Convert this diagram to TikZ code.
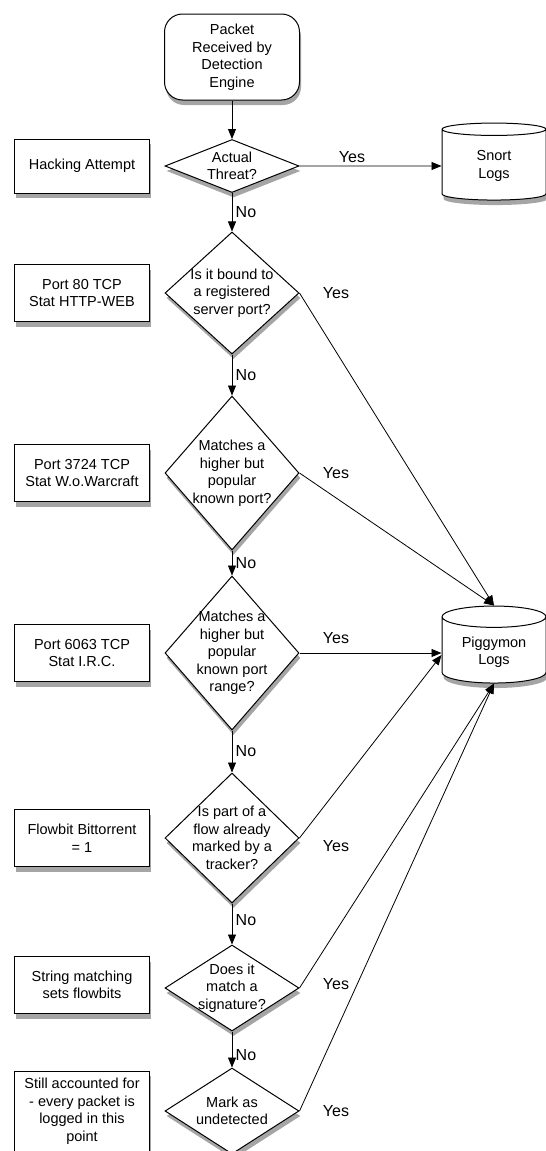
\documentclass[tikz,border=0pt]{standalone}
\usepackage{fontspec}
\setmainfont{Liberation Sans}
\usetikzlibrary{shapes.geometric,shadows,arrows.meta}

\begin{document}
\begin{tikzpicture}[x=1pt, y=-1pt, font=\fontsize{14.5}{17.5}\selectfont,
  softshadow/.style = {drop shadow={opacity=.5, fill=black!70, shadow xshift=1.5pt, shadow yshift=-5pt}},
  term/.style = {draw, line width=1pt, fill=white, rounded corners=18pt, minimum width=135pt, minimum height=86pt, align=center, softshadow},
  proc/.style = {draw, line width=1pt, fill=white, minimum width=135pt, minimum height=54pt, align=center, softshadow},
  quest/.style = {draw, line width=1pt, fill=white, diamond, inner sep=0pt, minimum width=134pt, softshadow},
  logs/.style = {draw, line width=1pt, fill=white, cylinder, shape border rotate=90, aspect=.3, minimum width=104pt, minimum height=77pt, align=center, softshadow},
  flow/.style = {-{Triangle[length=10pt, width=8pt]}, line width=.8pt},
  ans/.style = {font=\fontsize{16}{19}\selectfont}]
\useasboundingbox (0,0) rectangle (546,1151);

% main column
\node[term] (start) at (232,57) {Packet\\Received by\\Detection\\Engine};
\node[quest, minimum height=53pt, label={[align=center]center:Actual\\Threat?}] (d1) [below of=start, node distance=109pt] {};
\node[quest, minimum height=122pt, label={[align=center]center:Is it bound to\\a registered\\server port?}] (d2) [below of=d1, node distance=127pt] {};
\node[quest, minimum height=154pt, label={[align=center]center:Matches a\\higher but\\popular\\known port?}] (d3) [below of=d2, node distance=180pt] {};
\node[quest, minimum height=154pt, label={[align=center]center:Matches a\\higher but\\popular\\known port\\range?}] (d4) [below of=d3, node distance=180pt] {};
\node[quest, minimum height=130pt, label={[align=center]center:Is part of a\\flow already\\marked by a\\tracker?}] (d5) [below of=d4, node distance=185pt] {};
\node[quest, minimum height=86pt, label={[align=center]center:Does it\\match a\\signature?}] (d6) [below of=d5, node distance=150pt] {};
\node[quest, minimum height=86pt, label={[align=center]center:Mark as\\undetected}] (d7) [below of=d6, node distance=123pt] {};

% side notes
\node[proc] (hack) [left of=d1, node distance=150pt] {Hacking Attempt};
\node[proc, minimum height=57pt] (http) [left of=d2, node distance=150pt] {Port 80 TCP\\Stat HTTP-WEB};
\node[proc, minimum height=57pt] (wow) [left of=d3, node distance=150pt] {Port 3724 TCP\\Stat W.o.Warcraft};
\node[proc, minimum height=57pt] (irc) [left of=d4, node distance=150pt] {Port 6063 TCP\\Stat I.R.C.};
\node[proc, minimum height=57pt] (bt) [left of=d5, node distance=150pt] {Flowbit Bittorrent\\= 1};
\node[proc, minimum height=57pt, yshift=3pt] (sig) [left of=d6, node distance=150pt] {String matching\\sets flowbits};
\node[proc, minimum height=80pt] (still) [left of=d7, node distance=150pt] {Still accounted for\\- every packet is\\logged in this\\point};

% logs
\node[logs] (snort) [right of=d1, node distance=262pt] {Snort\\Logs};
\node[logs] (pig) [right of=d4, node distance=262pt, yshift=1pt] {Piggymon\\Logs};

% yes labels
\node[ans] (y2) [right of=d2, node distance=104pt] {Yes};
\node[ans] (y3) [right of=d3, node distance=104pt] {Yes};
\node[ans, yshift=15pt] (y4) [right of=d4, node distance=104pt] {Yes};
\node[ans, yshift=-8pt] (y5) [right of=d5, node distance=104pt] {Yes};
\node[ans, yshift=4pt] (y6) [right of=d6, node distance=104pt] {Yes};
\node[ans] (y7) [right of=d7, node distance=104pt] {Yes};

\draw[flow] (start) -- (d1);
\draw[flow] (d1.east) -- node[ans, above, pos=.37] {Yes} (snort.west);
\draw[flow] (d1) -- node[ans, right] {No} (d2);
\draw[flow] (d2) -- node[ans, right] {No} (d3);
\draw[flow] (d3) -- node[ans, right] {No} (d4);
\draw[flow] (d4) -- node[ans, right] {No} (d5);
\draw[flow] (d5) -- node[ans, right, pos=.4] {No} (d6);
\draw[flow] (d6) -- node[ans, right, pos=.65] {No} (d7);
\draw[flow] (d2.east) -- (pig.north);
\draw[flow] (d3.east) -- (pig.north);
\draw[flow] (d4.east) -- (pig.west |- d4.east);
\draw[flow] (d5.east) -- ([yshift=-3pt]pig.west);
\draw[flow] (d6.east) -- (pig.south);
\draw[flow] (d7.east) -- (pig.south);
\end{tikzpicture}
\end{document}
